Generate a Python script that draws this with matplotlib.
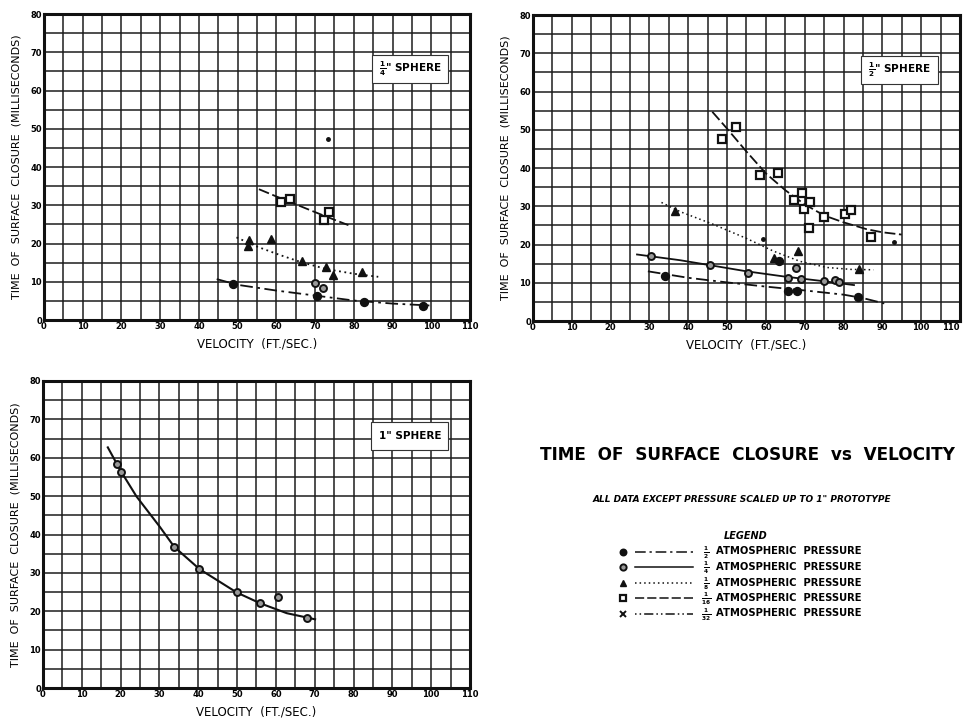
import matplotlib.pyplot as plt
from matplotlib.patches import Rectangle

plt.rcParams['font.family'] = 'DejaVu Sans'
plt.rcParams['font.weight'] = 'bold'
plt.rcParams['mathtext.fontset'] = 'dejavusans'

# ---- 1/4" sphere ----
q_sq_x = [61.1, 63.5, 72.3, 73.7]
q_sq_y = [30.8, 31.6, 26.1, 28.2]
q_sq_fit_x = [55.5, 60.0, 64.4, 70.0, 74.0, 78.6]
q_sq_fit_y = [34.2, 32.3, 30.5, 28.2, 26.6, 24.8]

q_tri_x = [52.9, 52.6, 58.5, 66.5, 72.7, 74.7, 82.0]
q_tri_y = [20.9, 19.3, 21.2, 15.5, 13.9, 11.8, 12.6]
q_tri_fit_x = [49.7, 55.0, 60.9, 66.5, 73.0, 80.0, 86.3]
q_tri_fit_y = [21.6, 19.2, 17.0, 15.1, 13.3, 12.1, 11.3]

q_circ_x = [70.0, 72.0]
q_circ_y = [9.6, 8.5]

q_half_x = [48.9, 70.4, 82.7, 97.9]
q_half_y = [9.3, 6.3, 4.6, 3.7]
q_half_fit_x = [44.6, 50.0, 60.0, 70.0, 80.0, 90.0, 99.5]
q_half_fit_y = [10.7, 9.2, 7.7, 6.4, 5.1, 4.3, 3.8]

q_dot_x = [73.2]
q_dot_y = [47.2]

# ---- 1/2" sphere ----
h_sq_x = [48.6, 52.4, 58.6, 63.2, 67.3, 69.2, 69.9, 71.4, 71.1, 75.0, 80.3, 81.9, 87.2]
h_sq_y = [47.5, 50.6, 38.2, 38.6, 31.6, 33.6, 29.2, 31.0, 24.2, 27.3, 27.9, 29.0, 21.9]
h_sq_fit_x = [46.2, 50, 55, 60, 65, 70, 75, 80, 86, 90, 95]
h_sq_fit_y = [54.7, 50.3, 44.3, 38.6, 34.2, 30.5, 27.6, 25.8, 24.0, 23.2, 22.6]

h_tri_x = [36.5, 62.2, 68.3, 84.0]
h_tri_y = [28.8, 16.6, 18.4, 13.5]
h_tri_fit_x = [33.1, 37.9, 46.4, 55.0, 61.9, 68.8, 75.7, 82.0, 87.7]
h_tri_fit_y = [31.0, 28.6, 25.3, 21.6, 18.3, 15.6, 14.0, 13.5, 13.4]

h_circ_x = [30.3, 45.6, 55.3, 65.6, 69.0, 75.0, 77.8, 78.9, 67.7]
h_circ_y = [16.9, 14.6, 12.6, 11.2, 11.0, 10.5, 10.7, 10.1, 13.8]
h_circ_fit_x = [26.8, 37.9, 45.6, 55.0, 65.0, 75.0, 82.7]
h_circ_fit_y = [17.4, 15.9, 14.6, 13.0, 11.6, 10.4, 9.4]

h_half_x = [33.9, 65.8, 67.9, 83.8, 63.4]
h_half_y = [11.9, 7.8, 7.8, 6.4, 15.6]
h_half_fit_x = [29.6, 40, 50, 60, 70, 80, 85, 90.5]
h_half_fit_y = [13.0, 11.3, 10.1, 9.0, 8.0, 6.9, 6.0, 4.6]

h_dot_x = [59.3, 93.1]
h_dot_y = [21.4, 20.6]

# ---- 1" sphere ----
one_x = [19.1, 20.1, 33.8, 40.3, 49.9, 55.9, 60.6, 67.9]
one_y = [58.3, 56.4, 36.8, 31.0, 24.9, 22.1, 23.8, 18.3]
one_fit_x = [16.7, 20.0, 24.1, 30.1, 33.8, 40.3, 49.9, 55.9, 62.8, 70.1]
one_fit_y = [62.7, 56.6, 49.9, 42.0, 36.8, 31.0, 24.9, 22.1, 19.5, 17.9]

# legend entries: pressure fraction (num, den)
pressures = [("1", "2"), ("1", "4"), ("1", "8"), ("1", "16"), ("1", "32")]

INK = "#111111"
MARK = {
    "half": dict(marker="o", mfc=INK, mec=INK, ms=5.5, mew=1.2),
    "quarter": dict(marker="o", mfc="0.6", mec=INK, ms=5, mew=1.4),
    "eighth": dict(marker="^", mfc=INK, mec=INK, ms=6, mew=1),
    "sixteenth": dict(marker="s", mfc="white", mec=INK, ms=5.5, mew=1.6),
    "thirtysecond": dict(marker="x", mfc=INK, mec=INK, ms=5, mew=1.4),
}
LINE = {
    "half": (0, (7, 2.5, 1.5, 2.5)),
    "quarter": "-",
    "eighth": (0, (1, 2)),
    "sixteenth": (0, (6, 2)),
    "thirtysecond": (0, (1, 2, 1, 2, 6, 2)),
}


def setup(ax, label):
    ax.set_xlim(0, 110)
    ax.set_ylim(0, 80)
    ax.set_xticks(range(0, 111, 10))
    ax.set_yticks(range(0, 81, 10))
    ax.set_xticks(range(5, 111, 10), minor=True)
    ax.set_yticks(range(5, 81, 10), minor=True)
    ax.grid(which="both", color="#1c1c1c", lw=1.1)
    ax.set_axisbelow(True)
    ax.tick_params(which="both", length=0, labelsize=6, pad=1.5)
    for sp in ax.spines.values():
        sp.set_linewidth(2.2)
        sp.set_color(INK)
    ax.set_xlabel("VELOCITY  (FT./SEC.)", fontsize=8.5)
    ax.set_ylabel("TIME  OF  SURFACE  CLOSURE  (MILLISECONDS)", fontsize=8)
    ax.xaxis.set_label_coords(0.5, -0.058)
    ax.yaxis.set_label_coords(-0.052, 0.5)
    ax.add_patch(Rectangle((84.6, 62.0), 19.8, 7.3, fc="white", ec="#333333",
                           lw=0.8, zorder=2))
    ax.text(94.5, 65.6, label, ha="center", va="center", fontsize=7.5, zorder=3)


def curve(ax, x, y, key, lw=1.3):
    ax.plot(x, y, color=INK, lw=lw, ls=LINE[key], zorder=3)


def points(ax, x, y, key):
    ax.plot(x, y, ls="none", zorder=4, **MARK[key])


fig = plt.figure(figsize=(9.64, 7.19), dpi=100)

ax1 = fig.add_axes([0.0456, 0.5549, 0.4420, 0.4256])
setup(ax1, r'$\frac{\mathbf{1}}{\mathbf{4}}$" SPHERE')
curve(ax1, q_sq_fit_x, q_sq_fit_y, "sixteenth")
curve(ax1, q_tri_fit_x, q_tri_fit_y, "eighth")
curve(ax1, q_half_fit_x, q_half_fit_y, "half")
points(ax1, q_sq_x, q_sq_y, "sixteenth")
points(ax1, q_tri_x, q_tri_y, "eighth")
points(ax1, q_circ_x, q_circ_y, "quarter")
points(ax1, q_half_x, q_half_y, "half")
ax1.plot(q_dot_x, q_dot_y, "o", color=INK, ms=2.5, zorder=4)

ax2 = fig.add_axes([0.5529, 0.5535, 0.4429, 0.4256])
setup(ax2, r'$\frac{\mathbf{1}}{\mathbf{2}}$" SPHERE')
curve(ax2, h_sq_fit_x, h_sq_fit_y, "sixteenth")
curve(ax2, h_tri_fit_x, h_tri_fit_y, "eighth", lw=1.1)
curve(ax2, h_circ_fit_x, h_circ_fit_y, "quarter")
curve(ax2, h_half_fit_x, h_half_fit_y, "half")
points(ax2, h_sq_x, h_sq_y, "sixteenth")
points(ax2, h_tri_x, h_tri_y, "eighth")
points(ax2, h_circ_x, h_circ_y, "quarter")
points(ax2, h_half_x, h_half_y, "half")
ax2.plot(h_dot_x, h_dot_y, "o", color=INK, ms=2.5, zorder=4)
# keep the last tick label inside the page edge
ax2.get_xticklabels()[-1].set_horizontalalignment("right")

ax3 = fig.add_axes([0.0446, 0.0431, 0.4429, 0.4270])
setup(ax3, '1" SPHERE')
curve(ax3, one_fit_x, one_fit_y, "quarter", lw=1.5)
points(ax3, one_x, one_y, "quarter")

# title block and legend, laid out in pixel coordinates
ov = fig.add_axes([0, 0, 1, 1])
ov.set_xlim(0, 964)
ov.set_ylim(719, 0)
ov.axis("off")

ov.text(747, 455, "TIME  OF  SURFACE  CLOSURE  vs  VELOCITY",
        ha="center", va="center", fontsize=12.2)
ov.text(742, 500, 'ALL DATA EXCEPT PRESSURE SCALED UP TO 1" PROTOTYPE',
        ha="center", va="center", fontsize=6.5, style="italic")
ov.text(746, 536, "LEGEND", ha="center", va="center", fontsize=7, style="italic")

keys = ["half", "quarter", "eighth", "sixteenth", "thirtysecond"]
for i, (key, (num, den)) in enumerate(zip(keys, pressures)):
    yy = 551.5 + i * 15.5
    ov.plot([622.7], [yy], ls="none", **{**MARK[key], "ms": 4.5})
    ov.plot([635, 693], [yy, yy], color=INK, lw=1.1, ls=LINE[key])
    ov.text(706, yy + 1, r"$\frac{\mathbf{%s}}{\mathbf{%s}}$" % (num, den),
            ha="center", va="center", fontsize=6)
    ov.text(716, yy, "ATMOSPHERIC  PRESSURE", ha="left", va="center", fontsize=7.2)

fig.savefig("out.png", dpi=100)
